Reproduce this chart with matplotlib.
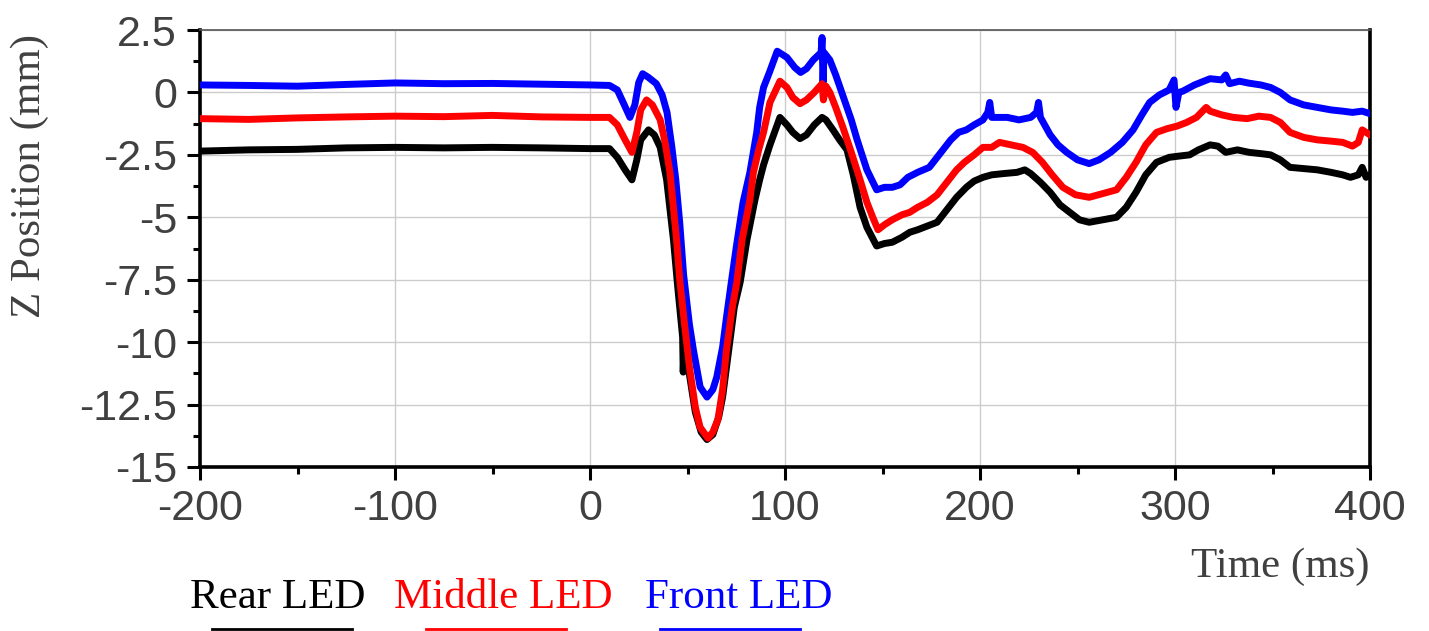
import matplotlib
matplotlib.use("Agg")
import matplotlib.pyplot as plt
from matplotlib.lines import Line2D
import numpy as np

# data (time in ms, z in mm)
rear_t = [-200, -175, -150, -125, -100, -75, -50, -25, 0, 10, 14, 18, 21.5, 24, 26, 30, 33, 36, 39.3, 42.8,
          45, 47.5, 47.8, 48.3, 51, 54, 57, 60, 63, 66, 68, 71, 74, 77, 80.5, 84.6, 87, 89, 92.3, 97.4,
          101, 104, 107.7, 111, 115, 119, 121, 124.6, 128, 131.8, 135, 138.5, 142, 147, 151, 155, 160, 164,
          168, 173, 178, 183, 188, 193, 197, 201.5, 206, 212, 219, 223, 226, 231, 236, 241, 246, 251, 256,
          263, 270, 275, 280, 285, 290.5, 297, 302, 307.5, 312, 318, 322, 326, 332, 338, 344, 349, 354, 359,
          366, 373, 380, 386, 390, 394, 396, 398, 400]
rear_z = [-2.35, -2.3, -2.28, -2.22, -2.2, -2.22, -2.2, -2.22, -2.25, -2.25, -2.6, -3.1, -3.5, -2.7, -1.9, -1.5, -1.7, -2.2, -3.5, -5.9,
          -7.8, -9.8, -11.2, -10.0, -11.3, -12.8, -13.6, -13.9, -13.7, -13.0, -12.2, -10.4, -8.6, -7.6, -5.9, -4.3, -3.5, -2.9, -2.1, -1.0,
          -1.3, -1.6, -1.85, -1.7, -1.3, -1.0, -1.1, -1.5, -1.9, -2.3, -3.3, -4.6, -5.4, -6.15, -6.05, -6.0, -5.8, -5.6,
          -5.5, -5.35, -5.2, -4.7, -4.2, -3.8, -3.55, -3.4, -3.3, -3.25, -3.2, -3.1, -3.25, -3.6, -4.0, -4.5, -4.8, -5.1, -5.2,
          -5.1, -5.0, -4.6, -4.0, -3.3, -2.8, -2.6, -2.55, -2.5, -2.3, -2.1, -2.15, -2.4, -2.3, -2.4, -2.45, -2.5, -2.7, -3.0,
          -3.05, -3.1, -3.2, -3.3, -3.4, -3.3, -3.0, -3.4, -3.3]

middle_t = [-200, -175, -150, -125, -100, -75, -50, -25, 0, 10, 14, 18, 21.5, 24, 26, 29, 32, 36, 38.5, 41,
            44.4, 46, 48.5, 51, 54, 56.4, 60.5, 63, 65.6, 68, 70, 73, 75.3, 78, 82, 83.8, 86.5, 89, 92.3, 97.4,
            101, 104, 107.7, 111, 115, 119, 119.7, 121, 123, 126, 129.7, 134, 138.5, 142, 145, 147.7, 151, 155,
            160, 164, 168, 173, 178, 183, 188, 192, 197, 201.5, 206, 210, 216, 222, 227, 232, 237, 242.5, 249,
            256, 263, 270, 275, 280, 285, 290.5, 296, 301, 306, 311, 316, 318, 324, 330, 337, 343, 349, 354,
            359, 366, 373, 380, 386, 391, 394, 396, 400]
middle_z = [-1.05, -1.08, -1.02, -0.98, -0.95, -0.97, -0.92, -0.98, -1.0, -1.0, -1.3, -1.9, -2.4, -1.6, -0.7, -0.3, -0.5, -1.1, -2.0, -3.2,
            -5.9, -7.5, -9.3, -11.0, -12.6, -13.4, -13.85, -13.6, -13.1, -11.9, -10.3, -8.6, -7.6, -5.9, -4.3, -3.2, -2.3, -1.6, -0.4, 0.45,
            0.2, -0.2, -0.45, -0.3, 0.0, 0.35, -0.3, 0.25, 0.0, -0.6, -1.4, -2.4, -3.5, -4.4, -5.0, -5.5, -5.3, -5.1,
            -4.9, -4.8, -4.6, -4.4, -4.1, -3.6, -3.1, -2.8, -2.5, -2.2, -2.2, -2.0, -2.1, -2.2, -2.4, -2.8, -3.3, -3.8, -4.1,
            -4.2, -4.05, -3.9, -3.4, -2.8, -2.1, -1.6, -1.45, -1.35, -1.2, -1.0, -0.6, -0.75, -0.9, -1.0, -1.05, -0.95, -1.0, -1.2,
            -1.6, -1.8, -1.9, -1.95, -2.0, -2.15, -2.0, -1.5, -1.7]

front_t = [-200, -175, -150, -125, -100, -75, -50, -25, 0, 10, 14, 17, 20.5, 23, 25, 27, 30, 34, 37, 39.5,
           42, 44, 46, 48, 51, 53, 56.5, 60, 63, 65, 68, 70, 73, 75, 78.5, 82, 85.5, 87, 89, 92,
           96, 101, 105, 108, 111, 114.5, 118.5, 119, 119.5, 120, 123, 126, 130, 134, 137, 142, 147, 151, 155,
           159, 163, 168, 174, 180, 185, 189, 193, 197, 201.5, 204, 205, 206, 210, 214, 220, 226, 229, 230,
           231, 236, 240, 244.5, 250, 256, 261, 267, 273, 278.5, 283, 287, 292, 297, 299.5, 300.5, 302, 304,
           310, 318, 324, 326, 328, 333, 338, 344, 349, 354, 359, 366, 373, 380, 386, 391, 396, 400]
front_z = [0.30, 0.28, 0.25, 0.32, 0.38, 0.35, 0.36, 0.33, 0.30, 0.28, 0.1, -0.4, -1.0, -0.5, 0.4, 0.75, 0.6, 0.35, -0.1, -0.8,
           -2.2, -3.5, -5.2, -7.3, -9.3, -10.3, -11.8, -12.2, -11.9, -11.4, -10.2, -9.0, -7.3, -6.2, -4.4, -3.2, -1.6, -0.6, 0.2, 0.8,
           1.65, 1.4, 1.0, 0.8, 0.95, 1.3, 1.6, 2.2, 0.4, 1.6, 1.3, 0.7, -0.2, -1.1, -1.9, -3.1, -3.9, -3.8, -3.8,
           -3.7, -3.4, -3.2, -3.0, -2.4, -1.9, -1.6, -1.5, -1.3, -1.1, -0.8, -0.4, -1.0, -1.0, -1.0, -1.1, -1.0, -0.8, -0.4,
           -1.0, -1.7, -2.1, -2.4, -2.7, -2.85, -2.7, -2.4, -2.0, -1.5, -0.9, -0.4, -0.1, 0.1, 0.5, -0.6, 0.0, 0.05,
           0.3, 0.55, 0.5, 0.7, 0.35, 0.45, 0.37, 0.3, 0.2, 0.0, -0.3, -0.5, -0.6, -0.7, -0.75, -0.8, -0.75, -0.85]

labels = ["Rear LED", "Middle LED", "Front LED"]
colors = ["black", "#ff0000", "#0000ff"]

xticks = [-200, -100, 0, 100, 200, 300, 400]
xticklabels = ["-200", "-100", "0", "100", "200", "300", "400"]
yticks = [2.5, 0, -2.5, -5, -7.5, -10, -12.5, -15]
yticklabels = ["2.5", "0", "-2.5", "-5", "-7.5", "-10", "-12.5", "-15"]

W, H = 1429, 631
fig = plt.figure(figsize=(W / 100, H / 100), dpi=100)
ax = fig.add_axes([200 / W, 1 - 467 / H, 1170 / W, 437 / H])

# draw order: rear, front, middle
ax.plot(rear_t, rear_z, color=colors[0], lw=5, solid_joinstyle="round", zorder=3)
ax.plot(front_t, front_z, color=colors[2], lw=5, solid_joinstyle="round", zorder=4)
ax.plot(middle_t, middle_z, color=colors[1], lw=5, solid_joinstyle="round", zorder=5)

ax.set_xlim(-200, 400)
ax.set_ylim(-15, 2.5)
ax.set_xticks(xticks)
ax.set_xticklabels(xticklabels)
ax.set_xticks(np.arange(-150, 400, 100), minor=True)
ax.set_yticks(yticks)
ax.set_yticklabels(yticklabels)
ax.set_yticks(np.arange(1.25, -15, -2.5), minor=True)
ax.grid(True, which="major", color="#cccccc", lw=1.0, zorder=0)

for lab in ax.get_xticklabels() + ax.get_yticklabels():
    lab.set_fontfamily("Liberation Sans")
    lab.set_fontsize(31)
    lab.set_color("#404040")
ax.tick_params(which="major", direction="out", length=9.5, width=2.2)
ax.tick_params(axis="y", which="major", pad=7)
ax.tick_params(axis="x", which="major", pad=6)
ax.tick_params(which="minor", direction="out", length=5, width=2.2)

for side in ["left", "bottom", "right"]:
    ax.spines[side].set_linewidth(2.6)
    ax.spines[side].set_color("black")
ax.spines["top"].set_linewidth(1.2)
ax.spines["top"].set_color("#555555")

fig.text(30 / W, 1 - 176 / H, "Z Position (mm)", family="Liberation Serif", size=31, color="#404040",
         rotation=90, ha="center", va="center")
fig.text(1280 / W, 1 - 567 / H, "Time (ms)", family="Liberation Serif", size=31, color="#404040",
         ha="center", va="center")

# legend below the plot: coloured text with a line underneath
text_x = [278, 503, 739]
line_x = [282, 496, 730]
for lab, col, tx, lx in zip(labels, colors, text_x, line_x):
    fig.text(tx / W, 1 - 598 / H, lab, family="Liberation Serif", size=31, color=col, ha="center", va="center")
    fig.add_artist(Line2D([(lx - 70) / W, (lx + 70) / W], [1 - 629 / H, 1 - 629 / H], color=col, lw=2,
                          transform=fig.transFigure))

fig.savefig("out.png", dpi=100)
